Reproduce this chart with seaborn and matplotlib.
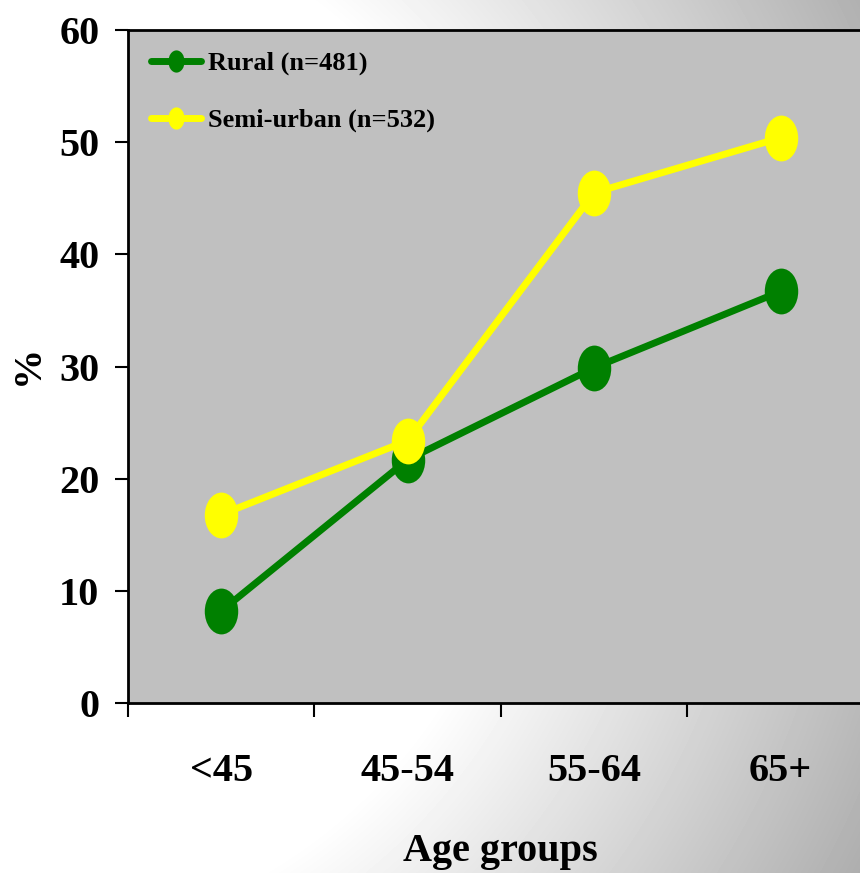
import numpy as np
import pandas as pd
import matplotlib
matplotlib.use("Agg")
import matplotlib.pyplot as plt
import seaborn as sns
from matplotlib.path import Path
from matplotlib.transforms import Affine2D
from matplotlib.lines import Line2D

# data
age_groups = ["<45", "45-54", "55-64", "65+"]
rural = [8.2, 21.7, 29.9, 36.7]
semi_urban = [16.8, 23.4, 45.5, 50.4]
series_labels = ["Rural (n=481)", "Semi-urban (n=532)"]
series_colors = ["#008000", "#FFFF00"]
y_ticks = [0, 10, 20, 30, 40, 50, 60]

df = pd.DataFrame({
    "age": age_groups * 2,
    "pct": rural + semi_urban,
    "group": [series_labels[0]] * len(age_groups) + [series_labels[1]] * len(age_groups),
})

sns.set_theme(style="white")
plt.rcParams["font.family"] = ["Liberation Serif", "DejaVu Serif"]
plt.rcParams["font.weight"] = "bold"
plt.rcParams["text.color"] = "black"
plt.rcParams["axes.labelcolor"] = "black"
plt.rcParams["xtick.color"] = "black"
plt.rcParams["ytick.color"] = "black"

# squashed circle, like the stretched markers in the original
ellipse = Path.unit_circle().transformed(Affine2D().scale(0.73, 1.0))

W, H = 860, 873
fig = plt.figure(figsize=(W / 100, H / 100), dpi=100)

# background: white around the left middle, fading to grey towards the right
bg = fig.add_axes([0, 0, 1, 1], zorder=-10)
px, py = np.meshgrid(np.arange(W), np.arange(H))
dist = np.hypot(px, py - 420)
shade = 1 - 0.31 * np.clip((dist - 520) / 440, 0, 1.1)
bg.imshow(shade, cmap="gray", vmin=0, vmax=1, aspect="auto",
          extent=[0, 1, 0, 1], origin="upper")
bg.set_xlim(0, 1)
bg.set_ylim(0, 1)
bg.axis("off")

ax = fig.add_axes([0.1488, 0.1947, 0.8674, 0.7709])
ax.set_facecolor("#C0C0C0")

sns.lineplot(
    data=df, x="age", y="pct", hue="group", hue_order=series_labels,
    palette=series_colors, marker=ellipse, markersize=33, markeredgewidth=0,
    linewidth=5, sort=False, legend=False, ax=ax,
)

ax.set_xlim(-0.5, 3.5)
ax.set_ylim(0, 60)
ax.set_yticks(y_ticks)
ax.set_xticks(range(len(age_groups)))
ax.set_xticklabels(age_groups)
ax.set_xticks([i - 0.5 for i in range(len(age_groups) + 1)], minor=True)
ax.set_xlabel("")
ax.set_ylabel("")

ax.tick_params(axis="both", which="both", bottom=True, left=True, colors="black",
               labelsize=29)
ax.tick_params(axis="x", which="major", length=0, pad=36)
ax.tick_params(axis="x", which="minor", length=10, width=1.5, direction="out")
ax.tick_params(axis="y", which="major", length=9.5, width=1.5, direction="out", pad=11)
for lab in ax.get_xticklabels() + ax.get_yticklabels():
    lab.set_fontweight("bold")
    lab.set_color("black")

for side in ["top", "left", "bottom"]:
    ax.spines[side].set_color("black")
    ax.spines[side].set_linewidth(2)
ax.spines["right"].set_visible(False)

handles = [
    Line2D([], [], color=c, lw=5, marker=ellipse, markersize=16, markeredgewidth=0)
    for c in series_colors
]
leg = ax.legend(handles, series_labels, loc="upper left", bbox_to_anchor=(0.031, 0.968),
                frameon=False, borderpad=0, borderaxespad=0, handlelength=1.9,
                handletextpad=0.25, labelspacing=1.25,
                prop={"family": "Liberation Serif", "weight": "bold", "size": 19})
for txt in leg.get_texts():
    txt.set_color("black")

fig.text(28 / W, 1 - 365 / H, "%", rotation=90, ha="center", va="center",
         fontsize=29, fontweight="bold", color="black")
fig.text(500 / W, 1 - 852 / H, "Age groups", ha="center", va="center",
         fontsize=29, fontweight="bold", color="black")

fig.savefig("out.png", dpi=100)
